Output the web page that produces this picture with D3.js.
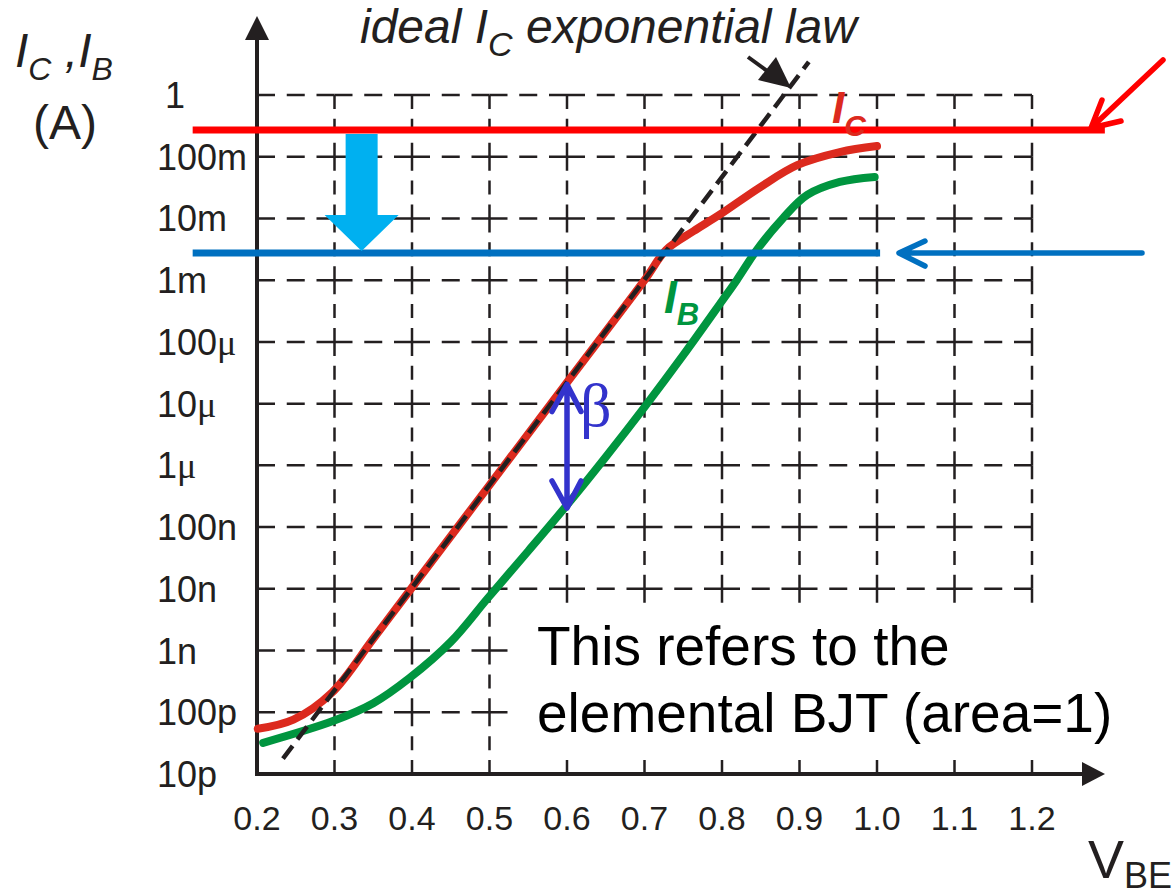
<!DOCTYPE html>
<html>
<head>
<meta charset="utf-8">
<script src="https://cdn.jsdelivr.net/npm/d3@7/dist/d3.min.js"></script>
<style>
  body { margin: 0; background: #fff; }
  text { font-family: "Liberation Sans", Arial, sans-serif; }
</style>
</head>
<body>
<svg width="1173" height="895"></svg>
<script>
// axis ticks
var vbeTicks = [0.2, 0.3, 0.4, 0.5, 0.6, 0.7, 0.8, 0.9, 1.0, 1.1, 1.2];
var vbeLabels = ["0.2", "0.3", "0.4", "0.5", "0.6", "0.7", "0.8", "0.9", "1.0", "1.1", "1.2"];
var currentTicks = [1, 1e-1, 1e-2, 1e-3, 1e-4, 1e-5, 1e-6, 1e-7, 1e-8, 1e-9, 1e-10, 1e-11];
var currentLabels = ["1", "100m", "10m", "1m", "100μ", "10μ", "1μ", "100n", "10n", "1n", "100p", "10p"];

// I_C (red) curve
var icVbe = [0.201, 0.247, 0.297, 0.35, 0.40, 0.50, 0.60, 0.70, 0.728, 0.763, 0.797, 0.849, 0.897, 0.952, 1.0];
var icAmp = [5.4e-11, 7.6e-11, 2.1e-10, 1.55e-9, 1.05e-8, 4.8e-7, 2.2e-5, 1.0e-3, 3.1e-3, 6.2e-3, 1.15e-2, 3.2e-2, 7.3e-2, 0.119, 0.149];

// I_B (green) curve
var ibVbe = [0.208, 0.298, 0.35, 0.397, 0.45, 0.498, 0.55, 0.60, 0.65, 0.70, 0.75, 0.80, 0.819, 0.845, 0.879, 0.910, 0.952, 0.997];
var ibAmp = [3.2e-11, 7.2e-11, 1.4e-10, 3.6e-10, 1.38e-9, 7.1e-9, 4.1e-8, 2.28e-7, 1.37e-6, 8.8e-6, 6.1e-5, 4.6e-4, 1.0e-3, 3.1e-3, 1.02e-2, 2.4e-2, 3.9e-2, 4.7e-2];

// ideal exponential law (dashed)
var idealVbe = [0.2335, 0.912];
var idealAmp = [1.78e-11, 3.43];

// horizontal reference levels (red, blue)
var refLevels = [0.271, 2.75e-3];
var refStart = [0.117, 0.117];
var refEnd = [1.294, 1.004];

var svg = d3.select("svg");
var ink = "#231f20";

var x = d3.scaleLinear().domain([0.2, 1.2]).range([257, 1032]);
var y = d3.scaleLog().domain([1e-11, 1]).range([774, 95]);

// grid, drawn cell by cell so dashes cross at intersections
var grid = svg.append("g")
    .attr("stroke", ink)
    .attr("stroke-width", 2.5);

var cellW = x(0.3) - x(0.2);
var cellH = y(1e-11) - y(1e-10);

currentTicks.slice(0, 11).forEach(function(c) {
    vbeTicks.slice(0, 10).forEach(function(v) {
        grid.append("line")
            .attr("x1", x(v)).attr("x2", x(v) + cellW)
            .attr("y1", y(c)).attr("y2", y(c))
            .attr("stroke-dasharray", "18," + ((cellW - 54) / 2));
    });
});
vbeTicks.slice(1).forEach(function(v) {
    currentTicks.slice(0, 11).forEach(function(c) {
        grid.append("line")
            .attr("x1", x(v)).attr("x2", x(v))
            .attr("y1", y(c)).attr("y2", y(c) + cellH)
            .attr("stroke-dasharray", "14," + ((cellH - 42) / 2));
    });
});

// white box behind the note
svg.append("rect")
    .attr("x", 518).attr("y", 603)
    .attr("width", 610).attr("height", 152)
    .attr("fill", "#fff");

// axes
svg.append("line")
    .attr("x1", x(0.2)).attr("x2", x(0.2))
    .attr("y1", y(1e-11) + 2).attr("y2", 38)
    .attr("stroke", ink).attr("stroke-width", 4);
svg.append("path")
    .attr("d", "M" + (x(0.2) - 12) + ",40 L" + (x(0.2) + 12) + ",40 L" + x(0.2) + ",16 Z")
    .attr("fill", ink);
svg.append("line")
    .attr("x1", x(0.2) - 2).attr("x2", 1084)
    .attr("y1", y(1e-11)).attr("y2", y(1e-11))
    .attr("stroke", ink).attr("stroke-width", 4);
svg.append("path")
    .attr("d", "M1082," + (y(1e-11) - 12) + " L1082," + (y(1e-11) + 12) + " L1105," + y(1e-11) + " Z")
    .attr("fill", ink);

// tick labels
svg.selectAll(".xlab")
    .data(vbeTicks)
    .enter().append("text")
    .attr("class", "xlab")
    .attr("x", function(d) { return x(d); })
    .attr("y", 830)
    .attr("text-anchor", "middle")
    .attr("font-size", 34)
    .attr("fill", ink)
    .text(function(d, i) { return vbeLabels[i]; });

var ylab = svg.selectAll(".ylab")
    .data(currentTicks)
    .enter().append("text")
    .attr("class", "ylab")
    .attr("x", function(d, i) { return i == 0 ? 165 : 157; })
    .attr("y", function(d) { return y(d) + 13; })
    .attr("font-size", 36)
    .attr("fill", ink);
ylab.append("tspan")
    .text(function(d, i) { return currentLabels[i].replace("μ", ""); });
ylab.append("tspan")
    .style("font-family", "'Liberation Serif', serif")
    .text(function(d, i) { return currentLabels[i].indexOf("μ") >= 0 ? "μ" : ""; });

// axis titles
var t1 = svg.append("text")
    .attr("x", 15).attr("y", 67)
    .attr("font-size", 48)
    .attr("font-style", "italic")
    .attr("fill", ink);
t1.append("tspan").text("I");
t1.append("tspan").attr("font-size", 32).attr("dy", 13).text("C");
t1.append("tspan").attr("dy", -13).text(" ,I");
t1.append("tspan").attr("font-size", 32).attr("dy", 13).text("B");

svg.append("text")
    .attr("x", 65).attr("y", 139)
    .attr("text-anchor", "middle")
    .attr("font-size", 48)
    .attr("fill", ink)
    .text("(A)");

var vt = svg.append("text")
    .attr("x", 1088).attr("y", 878)
    .attr("font-size", 54)
    .attr("fill", ink);
vt.append("tspan").text("V");
vt.append("tspan").attr("font-size", 36).attr("dy", 10).text("BE");

// curves
var line = d3.line()
    .x(function(d) { return x(d[0]); })
    .y(function(d) { return y(d[1]); })
    .curve(d3.curveCatmullRom.alpha(0.5));

svg.append("path")
    .datum(d3.zip(icVbe, icAmp))
    .attr("d", line)
    .attr("fill", "none")
    .attr("stroke", "#dc2a1e")
    .attr("stroke-width", 8)
    .attr("stroke-linecap", "round");

svg.append("path")
    .datum(d3.zip(ibVbe, ibAmp))
    .attr("d", line)
    .attr("fill", "none")
    .attr("stroke", "#00953f")
    .attr("stroke-width", 8)
    .attr("stroke-linecap", "round");

svg.append("path")
    .datum(d3.zip(idealVbe, idealAmp))
    .attr("d", d3.line().x(function(d) { return x(d[0]); }).y(function(d) { return y(d[1]); }))
    .attr("fill", "none")
    .attr("stroke", ink)
    .attr("stroke-width", 4.5)
    .attr("stroke-dasharray", "16,8");

// reference lines
var refColors = ["#ff0000", "#0070c0"];
refLevels.forEach(function(c, i) {
    svg.append("line")
        .attr("x1", x(refStart[i])).attr("x2", x(refEnd[i]))
        .attr("y1", y(c)).attr("y2", y(c))
        .attr("stroke", refColors[i])
        .attr("stroke-width", 7);
});

// light blue block arrow between the two levels
var ax = x(0.335), atop = y(refLevels[0]) + 4, atip = y(refLevels[1]) - 2;
svg.append("path")
    .attr("d", "M" + (ax - 16) + "," + atop + " L" + (ax + 16) + "," + atop +
        " L" + (ax + 16) + "," + (atip - 36) + " L" + (ax + 37) + "," + (atip - 36) +
        " L" + ax + "," + atip + " L" + (ax - 37) + "," + (atip - 36) +
        " L" + (ax - 16) + "," + (atip - 36) + " Z")
    .attr("fill", "#00b0f0");

// red arrow at right
var redY = y(refLevels[0]);
svg.append("path")
    .attr("d", "M1163,60 L1092," + (redY - 3) + " M1102,100 L1091," + (redY - 2) + " L1121,121")
    .attr("fill", "none").attr("stroke", "#ff0000").attr("stroke-width", 5.5)
    .attr("stroke-linecap", "round").attr("stroke-linejoin", "round");

// blue arrow at right
var blueY = y(refLevels[1]);
svg.append("path")
    .attr("d", "M1142," + blueY + " L900," + blueY +
        " M925," + (blueY - 12) + " L899," + blueY + " L925," + (blueY + 13))
    .attr("fill", "none").attr("stroke", "#0070c0").attr("stroke-width", 5.5)
    .attr("stroke-linecap", "round").attr("stroke-linejoin", "round");

// black arrow pointing at the ideal line
svg.append("line")
    .attr("x1", 748).attr("y1", 57).attr("x2", 770).attr("y2", 73)
    .attr("stroke", ink).attr("stroke-width", 4);
svg.append("path")
    .attr("d", "M791,88 L758,80 L776,57 Z")
    .attr("fill", ink);

// beta arrow
var bx = x(0.6), btop = y(icAmp[6]) + 2, bbot = y(ibAmp[7]) + 3;
svg.append("path")
    .attr("d", "M" + bx + "," + (btop + 4) + " L" + bx + "," + (bbot - 4) +
        " M" + (bx - 15) + "," + (btop + 27) + " L" + bx + "," + btop + " L" + (bx + 14) + "," + (btop + 27) +
        " M" + (bx - 15) + "," + (bbot - 27) + " L" + bx + "," + bbot + " L" + (bx + 14) + "," + (bbot - 27))
    .attr("fill", "none").attr("stroke", "#3333cc").attr("stroke-width", 5.5)
    .attr("stroke-linecap", "round").attr("stroke-linejoin", "round");
svg.append("text")
    .attr("x", 580).attr("y", 426)
    .attr("font-size", 62)
    .style("font-family", "'Liberation Serif', serif")
    .attr("fill", "#3333cc")
    .text("β");

// curve labels
var lc = svg.append("text")
    .attr("x", 832).attr("y", 123)
    .attr("font-size", 44).attr("font-style", "italic").attr("font-weight", "bold")
    .attr("fill", "#dc2a1e");
lc.append("tspan").text("I");
lc.append("tspan").attr("font-size", 30).attr("dy", 13).text("C");

var lb = svg.append("text")
    .attr("x", 664).attr("y", 313)
    .attr("font-size", 46).attr("font-style", "italic").attr("font-weight", "bold")
    .attr("fill", "#00953f");
lb.append("tspan").text("I");
lb.append("tspan").attr("font-size", 31).attr("dy", 12).text("B");

// ideal law caption
var il = svg.append("text")
    .attr("x", 360).attr("y", 43)
    .attr("font-size", 48).attr("font-style", "italic")
    .attr("fill", ink);
il.append("tspan").text("ideal I");
il.append("tspan").attr("font-size", 34).attr("dy", 13).text("C");
il.append("tspan").attr("dy", -13).text(" exponential law");

// note
var note = svg.append("text")
    .attr("font-size", 55)
    .attr("fill", "#000");
note.append("tspan").attr("x", 537).attr("y", 665).text("This refers to the");
note.append("tspan").attr("x", 537).attr("y", 732).text("elemental BJT (area=1)");
</script>
</body>
</html>
